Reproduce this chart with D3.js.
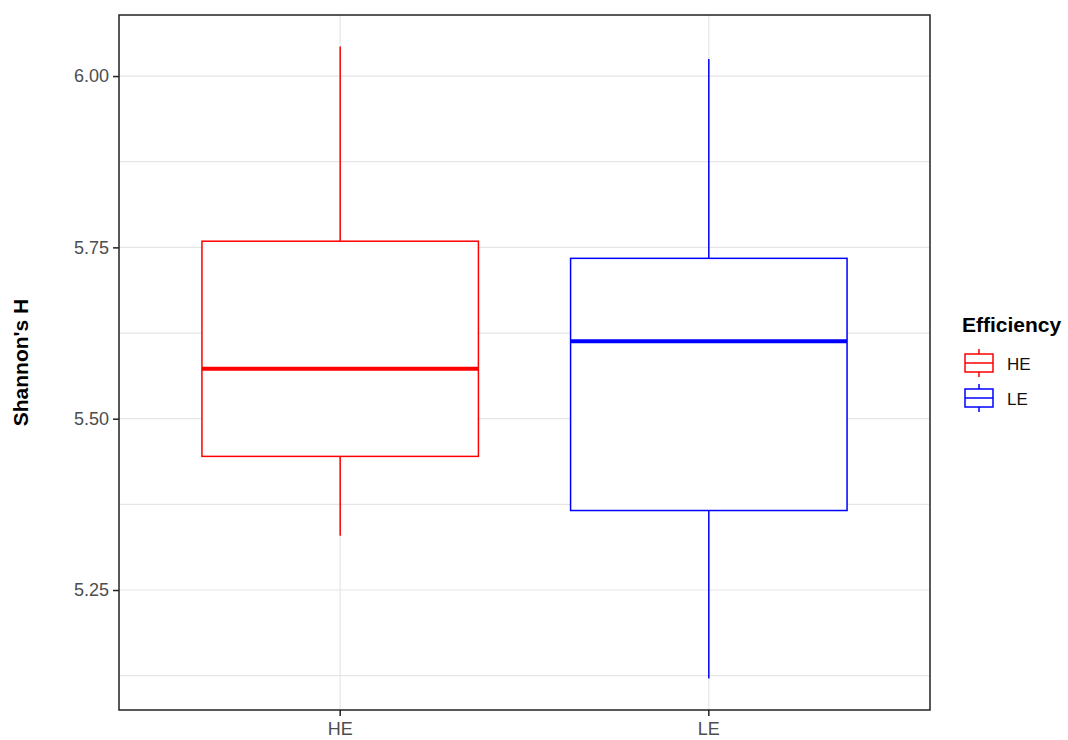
<!DOCTYPE html>
<html lang="en">
<head>
    <meta charset="UTF-8">
    <title>Shannon's H by Efficiency</title>
    <script src="https://d3js.org/d3.v7.min.js"></script>
    <style>
        body { margin: 0; background: #fff; }
        text { font-family: "Liberation Sans", Arial, sans-serif; }
        .grid line { stroke: #e6e6e6; stroke-width: 1.2; }
    </style>
</head>
<body>
    <svg id="chart"></svg>
    <script>
        const groups = ['HE', 'LE'];
        const colors = ['#ff0000', '#0000ff'];
        // five-number summaries
        const whiskerLow = [5.329, 5.121];
        const q1 = [5.445, 5.366];
        const median = [5.573, 5.613];
        const q3 = [5.759, 5.734];
        const whiskerHigh = [6.043, 6.025];
        const yTicks = [5.25, 5.50, 5.75, 6.00];
        const yMinor = [5.125, 5.375, 5.625, 5.875];

        const width = 1068, height = 740;
        const margin = { left: 119, right: 138, top: 15, bottom: 30 };

        const svg = d3.select('#chart')
            .attr('width', width)
            .attr('height', height);

        // ggplot style: 0.6 units of expansion on each side
        const step = (width - margin.right - margin.left) / (groups.length - 1 + 1.2);
        const cx = d => margin.left + step * 0.6 + groups.indexOf(d) * step;

        const lo = d3.min(whiskerLow), hi = d3.max(whiskerHigh);
        const pad = (hi - lo) * 0.05;
        const y = d3.scaleLinear()
            .domain([lo - pad, hi + pad])
            .range([height - margin.bottom, margin.top]);

        const grid = svg.append('g').attr('class', 'grid');
        grid.selectAll('.minor').data(yMinor).enter().append('line')
            .attr('x1', margin.left).attr('x2', width - margin.right)
            .attr('y1', d => y(d)).attr('y2', d => y(d));
        grid.selectAll('.major').data(yTicks).enter().append('line')
            .attr('x1', margin.left).attr('x2', width - margin.right)
            .attr('y1', d => y(d)).attr('y2', d => y(d));
        grid.selectAll('.vert').data(groups).enter().append('line')
            .attr('x1', d => cx(d)).attr('x2', d => cx(d))
            .attr('y1', margin.top).attr('y2', height - margin.bottom);

        const boxW = step * 0.75;
        const boxes = svg.selectAll('.box')
            .data(groups)
            .enter().append('g')
            .attr('class', 'box');

        boxes.append('line')
            .attr('x1', d => cx(d)).attr('x2', d => cx(d))
            .attr('y1', (d, i) => y(whiskerHigh[i])).attr('y2', (d, i) => y(q3[i]))
            .attr('stroke', (d, i) => colors[i]).attr('stroke-width', 1.5);
        boxes.append('line')
            .attr('x1', d => cx(d)).attr('x2', d => cx(d))
            .attr('y1', (d, i) => y(q1[i])).attr('y2', (d, i) => y(whiskerLow[i]))
            .attr('stroke', (d, i) => colors[i]).attr('stroke-width', 1.5);
        boxes.append('rect')
            .attr('x', d => cx(d) - boxW / 2)
            .attr('width', boxW)
            .attr('y', (d, i) => y(q3[i]))
            .attr('height', (d, i) => y(q1[i]) - y(q3[i]))
            .attr('fill', '#fff')
            .attr('stroke', (d, i) => colors[i]).attr('stroke-width', 1.5);
        boxes.append('line')
            .attr('x1', d => cx(d) - boxW / 2).attr('x2', d => cx(d) + boxW / 2)
            .attr('y1', (d, i) => y(median[i])).attr('y2', (d, i) => y(median[i]))
            .attr('stroke', (d, i) => colors[i]).attr('stroke-width', 4);

        // panel border
        svg.append('rect')
            .attr('x', margin.left).attr('y', margin.top)
            .attr('width', width - margin.right - margin.left)
            .attr('height', height - margin.bottom - margin.top)
            .attr('fill', 'none').attr('stroke', '#222').attr('stroke-width', 1.5);

        const yAxis = svg.append('g')
            .attr('transform', `translate(${margin.left},0)`)
            .call(d3.axisLeft(y).tickValues(yTicks).tickFormat(d3.format('.2f')).tickSize(6).tickPadding(4));
        yAxis.select('.domain').remove();
        yAxis.selectAll('text').attr('font-size', 18).attr('fill', '#4d4d4d');
        yAxis.selectAll('line').attr('stroke', '#222').attr('stroke-width', 1.5);

        const xAxis = svg.append('g')
            .attr('transform', `translate(0,${height - margin.bottom})`);
        xAxis.selectAll('line').data(groups).enter().append('line')
            .attr('x1', d => cx(d)).attr('x2', d => cx(d))
            .attr('y1', 0).attr('y2', 6)
            .attr('stroke', '#222').attr('stroke-width', 1.5);
        xAxis.selectAll('text').data(groups).enter().append('text')
            .attr('x', d => cx(d)).attr('y', 25)
            .attr('text-anchor', 'middle')
            .attr('font-size', 18).attr('fill', '#4d4d4d')
            .text(d => d);

        svg.append('text')
            .attr('transform', `translate(28,${(margin.top + height - margin.bottom) / 2}) rotate(-90)`)
            .attr('text-anchor', 'middle')
            .attr('font-size', 21).attr('font-weight', 'bold')
            .text("Shannon's H");

        // legend
        const legend = svg.append('g').attr('transform', 'translate(962,0)');
        legend.append('text')
            .attr('x', 0).attr('y', 332)
            .attr('font-size', 21).attr('font-weight', 'bold')
            .text('Efficiency');
        const keys = legend.selectAll('.key')
            .data(groups)
            .enter().append('g')
            .attr('transform', (d, i) => `translate(0,${363 + i * 35})`);
        keys.append('line')
            .attr('x1', 17).attr('x2', 17).attr('y1', -14).attr('y2', 14)
            .attr('stroke', (d, i) => colors[i]).attr('stroke-width', 1.5);
        keys.append('rect')
            .attr('x', 3).attr('y', -9).attr('width', 28).attr('height', 18)
            .attr('fill', '#fff')
            .attr('stroke', (d, i) => colors[i]).attr('stroke-width', 1.5);
        keys.append('line')
            .attr('x1', 3).attr('x2', 31).attr('y1', 0).attr('y2', 0)
            .attr('stroke', (d, i) => colors[i]).attr('stroke-width', 1.5);
        keys.append('text')
            .attr('x', 45).attr('y', 7)
            .attr('font-size', 17).attr('fill', '#111')
            .text(d => d);
    </script>
</body>
</html>
